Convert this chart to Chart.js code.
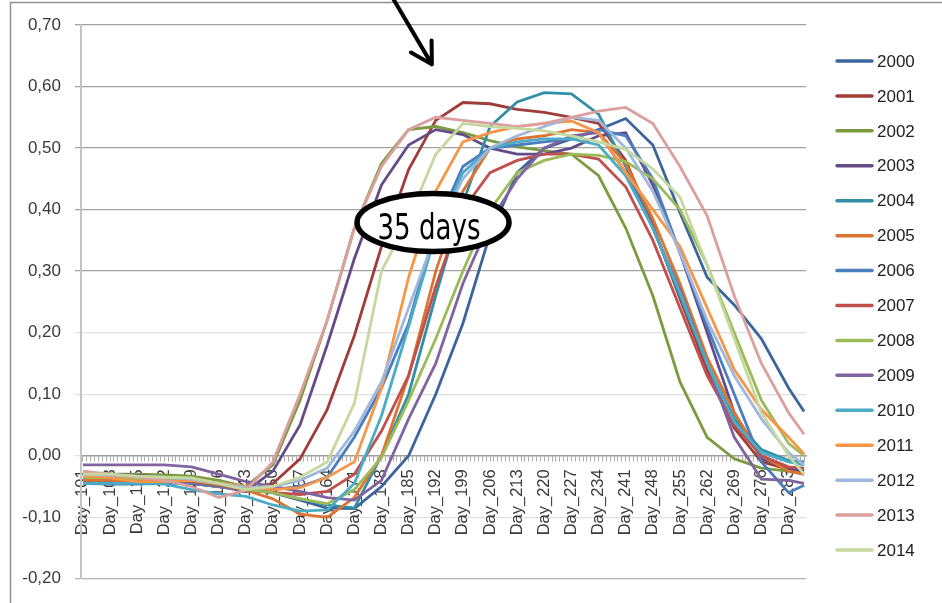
<!DOCTYPE html>
<html>
<head>
<meta charset="utf-8">
<script src="https://cdn.jsdelivr.net/npm/chart.js@4.4.1/dist/chart.umd.min.js"></script>
<style>
  html, body { margin: 0; padding: 0; background: #fff; }
  canvas { display: block; }
</style>
</head>
<body>
<canvas id="chart" width="942" height="603"></canvas>
<script>
// Sample days (about one per week)
const days = [101, 108, 115, 122, 129, 136, 143, 150, 157, 164, 171, 178, 185, 192,
              199, 206, 213, 220, 227, 234, 241, 248, 255, 262, 269, 276, 283, 287];

// Labelled days on the x axis
const labelDays = [101, 108, 115, 122, 129, 136, 143, 150, 157, 164, 171, 178, 185, 192,
                   199, 206, 213, 220, 227, 234, 241, 248, 255, 262, 269, 276, 283];
const firstDay = 101;
const lastDay = 287;

const years = ['2000', '2001', '2002', '2003', '2004', '2005', '2006', '2007',
               '2008', '2009', '2010', '2011', '2012', '2013', '2014'];

const colors = ['#3b659c', '#a03c39', '#7c9a40', '#654c88', '#338fa8', '#dc7330', '#4a7ebf',
                '#c0504d', '#9bbb59', '#8064a2', '#4bacc6', '#f79646', '#a0b8db', '#dba09e', '#c5d8a0'];

const y2000 = [-0.040, -0.042, -0.043, -0.044, -0.045, -0.050, -0.055, -0.060, -0.072, -0.085, -0.086, -0.050, 0.000, 0.100,
               0.215, 0.360, 0.460, 0.500, 0.515, 0.530, 0.548, 0.505, 0.395, 0.290, 0.245, 0.190, 0.110, 0.072];
const y2001 = [-0.035, -0.035, -0.036, -0.040, -0.045, -0.050, -0.055, -0.045, -0.005, 0.075, 0.195, 0.340, 0.465, 0.545,
               0.574, 0.572, 0.563, 0.558, 0.550, 0.540, 0.480, 0.375, 0.255, 0.140, 0.045, -0.010, -0.022, -0.025];
const y2002 = [-0.030, -0.030, -0.030, -0.031, -0.033, -0.040, -0.050, -0.015, 0.090, 0.220, 0.370, 0.475, 0.530, 0.535,
               0.525, 0.512, 0.502, 0.496, 0.490, 0.455, 0.370, 0.260, 0.120, 0.030, -0.005, -0.020, -0.025, -0.030];
const y2003 = [-0.030, -0.030, -0.032, -0.035, -0.040, -0.050, -0.058, -0.025, 0.050, 0.180, 0.320, 0.440, 0.505, 0.530,
               0.522, 0.500, 0.490, 0.490, 0.500, 0.520, 0.525, 0.440, 0.330, 0.200, 0.070, -0.005, -0.020, -0.025];
const y2004 = [-0.035, -0.036, -0.038, -0.040, -0.042, -0.048, -0.055, -0.060, -0.070, -0.080, -0.085, 0.000, 0.100, 0.260,
               0.410, 0.535, 0.575, 0.590, 0.588, 0.555, 0.470, 0.370, 0.260, 0.150, 0.060, 0.010, -0.008, -0.010];
const y2005 = [-0.040, -0.040, -0.042, -0.043, -0.045, -0.050, -0.056, -0.070, -0.095, -0.100, -0.068, 0.000, 0.130, 0.300,
               0.430, 0.500, 0.515, 0.520, 0.530, 0.525, 0.475, 0.385, 0.280, 0.160, 0.070, 0.000, -0.025, -0.030];
const y2006 = [-0.045, -0.046, -0.046, -0.045, -0.045, -0.050, -0.055, -0.055, -0.050, -0.035, 0.030, 0.110, 0.215, 0.370,
               0.470, 0.500, 0.505, 0.510, 0.515, 0.530, 0.520, 0.450, 0.330, 0.210, 0.100, -0.010, -0.060, -0.048];
const y2007 = [-0.035, -0.036, -0.038, -0.040, -0.042, -0.048, -0.055, -0.060, -0.063, -0.058, -0.030, 0.040, 0.130, 0.275,
               0.400, 0.460, 0.480, 0.490, 0.490, 0.482, 0.437, 0.350, 0.240, 0.130, 0.050, 0.000, -0.018, -0.020];
const y2008 = [-0.035, -0.036, -0.037, -0.038, -0.040, -0.046, -0.055, -0.060, -0.070, -0.078, -0.055, -0.003, 0.090, 0.190,
               0.300, 0.400, 0.460, 0.480, 0.490, 0.488, 0.478, 0.450, 0.400, 0.310, 0.200, 0.090, 0.020, 0.000];
const y2009 = [-0.015, -0.015, -0.015, -0.015, -0.018, -0.030, -0.042, -0.050, -0.058, -0.068, -0.072, -0.040, 0.060, 0.150,
               0.280, 0.380, 0.450, 0.500, 0.520, 0.525, 0.460, 0.370, 0.270, 0.150, 0.030, -0.038, -0.040, -0.045];
const y2010 = [-0.045, -0.045, -0.045, -0.046, -0.055, -0.062, -0.066, -0.080, -0.090, -0.088, -0.045, 0.065, 0.210, 0.360,
               0.460, 0.500, 0.510, 0.515, 0.515, 0.505, 0.455, 0.370, 0.265, 0.150, 0.055, 0.005, -0.010, -0.015];
const y2011 = [-0.032, -0.036, -0.042, -0.042, -0.040, -0.044, -0.050, -0.055, -0.052, -0.035, -0.010, 0.110, 0.290, 0.430,
               0.510, 0.525, 0.535, 0.540, 0.544, 0.525, 0.460, 0.400, 0.340, 0.240, 0.140, 0.075, 0.030, 0.003];
const y2012 = [-0.030, -0.032, -0.033, -0.035, -0.038, -0.045, -0.052, -0.050, -0.040, -0.020, 0.040, 0.120, 0.240, 0.360,
               0.450, 0.500, 0.520, 0.535, 0.550, 0.545, 0.500, 0.430, 0.330, 0.220, 0.130, 0.060, 0.005, -0.015];
const y2013 = [-0.025, -0.030, -0.035, -0.040, -0.050, -0.068, -0.056, -0.010, 0.100, 0.220, 0.370, 0.470, 0.530, 0.550,
               0.545, 0.540, 0.535, 0.540, 0.550, 0.560, 0.566, 0.540, 0.470, 0.390, 0.260, 0.150, 0.070, 0.035];
const y2014 = [-0.030, -0.030, -0.033, -0.035, -0.036, -0.045, -0.055, -0.050, -0.035, -0.010, 0.085, 0.300, 0.385, 0.490,
               0.540, 0.535, 0.532, 0.528, 0.520, 0.510, 0.498, 0.466, 0.420, 0.310, 0.190, 0.070, 0.000, -0.030];

const series = [y2000, y2001, y2002, y2003, y2004, y2005, y2006, y2007,
                y2008, y2009, y2010, y2011, y2012, y2013, y2014];

// Annotation anchors, in data units (day, value)
const arrowTail = [180.8, 0.745];
const arrowTip = [191, 0.636];
const bubbleCenter = [191.3, 0.379];
const bubbleText = '35 days';

const fontName = '"Liberation Sans", Arial, sans-serif';
const textColor = '#3a3a3a';

function fmt(v) {
    if (Math.abs(v) < 1e-9) v = 0;
    return v.toFixed(2).replace('.', ',');
}

const datasets = years.map((yr, i) => ({
    label: yr,
    data: days.map((d, k) => ({ x: d, y: series[i][k] })),
    borderColor: colors[i],
    backgroundColor: colors[i],
    borderWidth: 2.8,
    pointRadius: 0,
    tension: 0,
    order: -i
}));

// Frame, legend and the hand-drawn notes
const overlay = {
    id: 'overlay',
    beforeDraw(chart) {
        const ctx = chart.ctx;
        ctx.save();
        ctx.fillStyle = '#fff';
        ctx.fillRect(0, 0, chart.width, chart.height);
        ctx.strokeStyle = '#8f8f8f';
        ctx.lineWidth = 1.5;
        ctx.beginPath();
        ctx.moveTo(10.5, chart.height);
        ctx.lineTo(10.5, 2.5);
        ctx.lineTo(chart.width, 2.5);
        ctx.stroke();
        ctx.restore();
    },
    afterDraw(chart) {
        const ctx = chart.ctx;
        const xs = chart.scales.x, ys = chart.scales.y;
        ctx.save();

        // legend
        ctx.font = '17px ' + fontName;
        ctx.textBaseline = 'middle';
        ctx.textAlign = 'left';
        chart.data.datasets.forEach((ds, i) => {
            const yy = 61 + i * 34.93;
            ctx.strokeStyle = ds.borderColor;
            ctx.lineWidth = 3.5;
            ctx.lineCap = 'round';
            ctx.beginPath();
            ctx.moveTo(837, yy);
            ctx.lineTo(872, yy);
            ctx.stroke();
            ctx.fillStyle = '#222';
            ctx.fillText(ds.label, 877, yy + 1);
        });

        // arrow
        const tx = xs.getPixelForValue(arrowTail[0]), ty = ys.getPixelForValue(arrowTail[1]);
        const hx = xs.getPixelForValue(arrowTip[0]), hy = ys.getPixelForValue(arrowTip[1]);
        const ang = Math.atan2(ty - hy, tx - hx);
        ctx.strokeStyle = '#000';
        ctx.lineWidth = 4;
        ctx.lineCap = 'round';
        ctx.lineJoin = 'round';
        ctx.beginPath();
        ctx.moveTo(tx, ty);
        ctx.lineTo(hx, hy);
        ctx.moveTo(hx + 24 * Math.cos(ang - 0.52), hy + 24 * Math.sin(ang - 0.52));
        ctx.lineTo(hx, hy);
        ctx.lineTo(hx + 24 * Math.cos(ang + 0.52), hy + 24 * Math.sin(ang + 0.52));
        ctx.stroke();

        // ellipse with text
        const cx = xs.getPixelForValue(bubbleCenter[0]), cy = ys.getPixelForValue(bubbleCenter[1]);
        ctx.beginPath();
        ctx.ellipse(cx, cy, 76, 29, 0, 0, Math.PI * 2);
        ctx.fillStyle = '#fff';
        ctx.fill();
        ctx.lineWidth = 5.5;
        ctx.strokeStyle = '#000';
        ctx.stroke();

        ctx.font = '36px "Liberation Sans Narrow", "DejaVu Sans Condensed", sans-serif';
        ctx.textAlign = 'center';
        ctx.textBaseline = 'alphabetic';
        ctx.fillStyle = '#000';
        const w = ctx.measureText(bubbleText).width;
        const sx = 103 / w;
        ctx.translate(cx - 4, cy + 16);
        ctx.scale(sx, 1);
        ctx.fillText(bubbleText, 0, 0);
        ctx.restore();
    }
};

new Chart(document.getElementById('chart'), {
    type: 'line',
    data: { datasets: datasets },
    options: {
        responsive: false,
        animation: false,
        devicePixelRatio: 1,
        layout: { padding: { left: 0, top: 25, right: 136, bottom: 16 } },
        plugins: {
            legend: { display: false },
            tooltip: { enabled: false }
        },
        scales: {
            x: {
                type: 'linear',
                position: { y: 0 },
                min: firstDay - 0.5,
                max: lastDay + 0.5,
                afterBuildTicks: scale => {
                    const t = [];
                    for (let d = firstDay; d <= lastDay; d++) t.push({ value: d });
                    scale.ticks = t;
                },
                ticks: {
                    autoSkip: false,
                    minRotation: 90,
                    maxRotation: 90,
                    padding: 4,
                    color: textColor,
                    font: { family: fontName, size: 16.5 },
                    // trailing space keeps the rotated text clear of the tick marks
                    callback: v => labelDays.includes(v) ? 'Day_' + v + ' ' : ''
                },
                grid: { drawOnChartArea: false, drawTicks: true, tickLength: 5, color: '#a8a8a8', lineWidth: 1 },
                border: { color: '#a0a0a0', width: 1.5 }
            },
            y: {
                min: -0.2,
                max: 0.7,
                afterFit: scale => { scale.width = 81; },
                ticks: {
                    stepSize: 0.1,
                    padding: 14,
                    color: textColor,
                    font: { family: fontName, size: 17 },
                    callback: v => fmt(v)
                },
                grid: {
                    tickLength: 6,
                    lineWidth: 1.3,
                    color: c => {
                        const v = c.tick ? c.tick.value : 0;
                        if (v > 0.25) return '#a2a2a2';
                        if (v < -0.15) return '#b4b4b4';
                        return '#e0e0e0';
                    }
                },
                border: { color: '#c4c4c4', width: 2 }
            }
        }
    },
    plugins: [overlay]
});
</script>
</body>
</html>
